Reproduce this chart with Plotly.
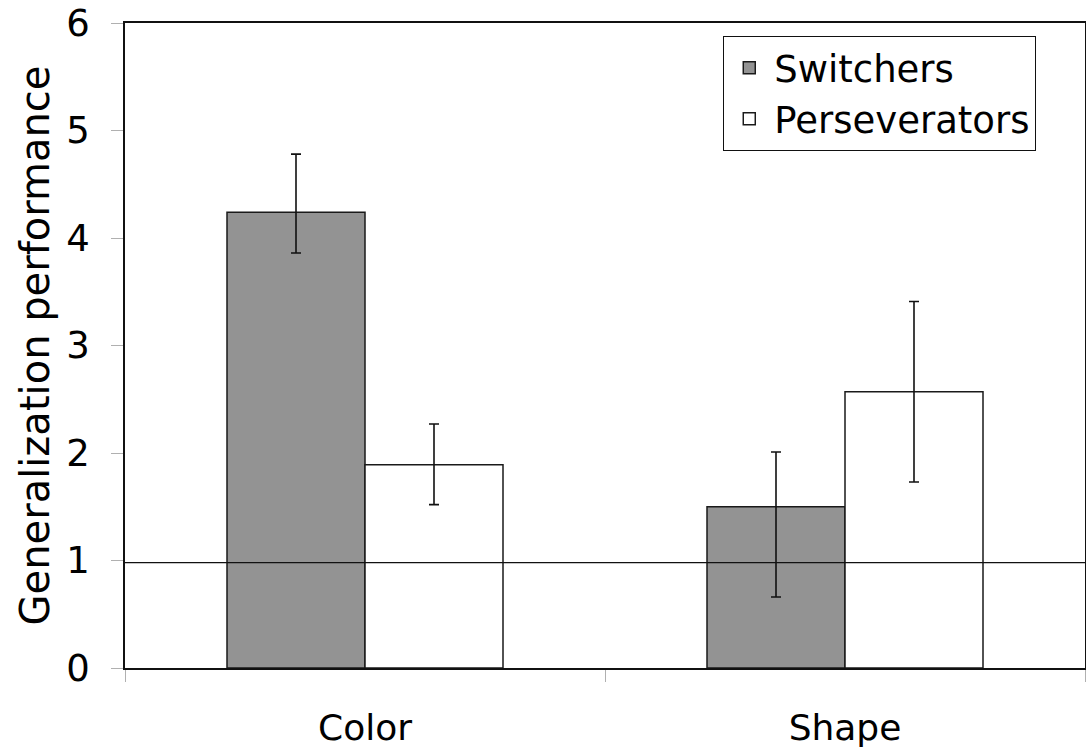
import plotly.graph_objects as go

categories = ["Color", "Shape"]
series_names = ["Switchers", "Perseverators"]
switchers = [4.24, 1.50]
switchers_err_plus = [0.54, 0.51]
switchers_err_minus = [0.38, 0.84]
perseverators = [1.89, 2.57]
perseverators_err_plus = [0.38, 0.84]
perseverators_err_minus = [0.37, 0.84]
chance_level = 0.98
y_ticks = [0, 1, 2, 3, 4, 5, 6]

FONT = "DejaVu Sans, Verdana, sans-serif"

fig = go.Figure()
fig.add_trace(go.Bar(
    x=categories, y=switchers, name=series_names[0],
    marker=dict(color="#939393", line=dict(color="#1a1a1a", width=1.5)),
    error_y=dict(type="data", symmetric=False, array=switchers_err_plus,
                 arrayminus=switchers_err_minus, color="#111111",
                 thickness=1.6, width=5),
))
fig.add_trace(go.Bar(
    x=categories, y=perseverators, name=series_names[1],
    marker=dict(color="#ffffff", line=dict(color="#1a1a1a", width=1.5)),
    error_y=dict(type="data", symmetric=False, array=perseverators_err_plus,
                 arrayminus=perseverators_err_minus, color="#111111",
                 thickness=1.6, width=5),
))

fig.add_hline(y=chance_level, line=dict(color="#111111", width=1.3), layer="above")

fig.update_layout(
    template="none",
    width=1086, height=755,
    paper_bgcolor="white", plot_bgcolor="white",
    margin=dict(l=125, r=1, t=23, b=87, autoexpand=False),
    barmode="group", bargap=0.425, bargroupgap=0,
    font=dict(family=FONT, color="black", size=36),
    showlegend=True,
    legend=dict(
        x=0.623, y=0.98, xanchor="left", yanchor="top",
        bgcolor="white", bordercolor="#111111", borderwidth=1.2,
        font=dict(family=FONT, size=37, color="black"),
        itemwidth=40,
    ),
    xaxis=dict(
        automargin=False,
        showline=True, linecolor="#111111", linewidth=1.6, mirror=True,
        ticks="outside", tickson="boundaries", ticklen=12, tickcolor="#b0b0b0",
        tickfont=dict(family=FONT, size=36, color="black"),
        ticklabelstandoff=27, showgrid=False, zeroline=False,
    ),
    yaxis=dict(
        automargin=False,
        range=[0, 6], tickvals=y_ticks,
        showline=True, linecolor="#111111", linewidth=1.6, mirror=True,
        ticks="outside", ticklen=12, tickcolor="#b0b0b0",
        tickfont=dict(family=FONT, size=37, color="black"),
        ticklabelstandoff=14, showgrid=False, zeroline=False,
        title=dict(text="Generalization performance",
                   font=dict(family=FONT, size=40, color="black"), standoff=4),
    ),
)

fig.write_html("out.html", config={"displayModeBar": False},
               post_script="document.body.style.margin='0';")
